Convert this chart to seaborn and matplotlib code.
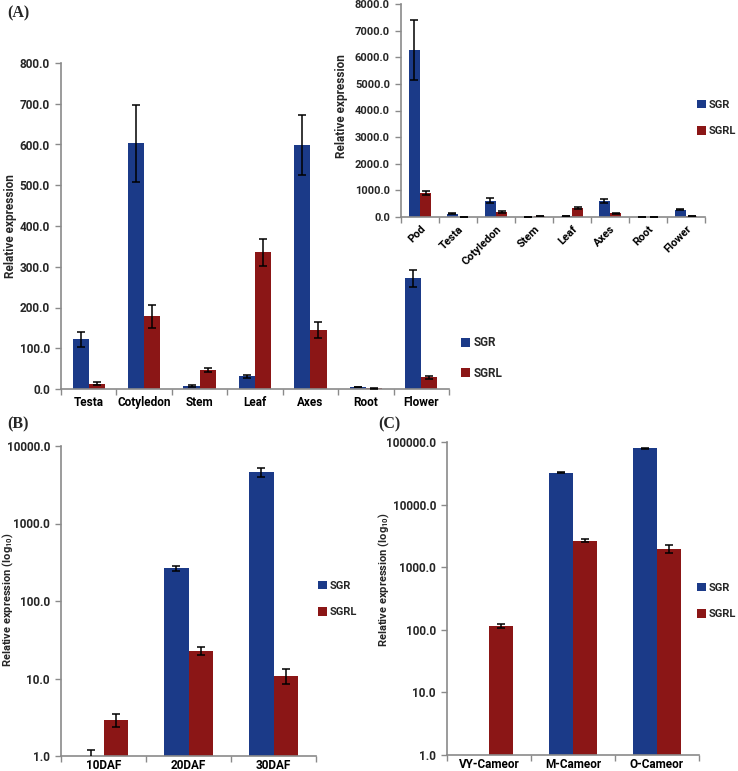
import matplotlib
matplotlib.use("Agg")
import matplotlib.pyplot as plt
import seaborn as sns
import pandas as pd
import numpy as np
from matplotlib.patches import Patch
from matplotlib.ticker import FixedLocator, FuncFormatter, NullLocator

# ---------------- data ----------------
genes = ["SGR", "SGRL"]

tissues = ["Testa", "Cotyledon", "Stem", "Leaf", "Axes", "Root", "Flower"]
sgr_tissue = [122, 603, 7, 31, 598, 5, 272]
sgr_tissue_err = [19, 94, 2, 4, 74, 1, 21]
sgrl_tissue = [13, 178, 47, 336, 145, 2, 29]
sgrl_tissue_err = [3, 29, 5, 33, 20, 1, 4]

pod_label = ["Pod"]
pod_sgr = [6270]
pod_sgr_err = [1140]
pod_sgrl = [900]
pod_sgrl_err = [80]

stages = ["10DAF", "20DAF", "30DAF"]
sgr_stage = [1.0, 264, 4620]
sgr_stage_err = [0.2, 20, 650]
sgrl_stage = [2.9, 22.8, 10.8]
sgrl_stage_err = [0.55, 2.5, 2.4]

cultivars = ["VY-Cameor", "M-Cameor", "O-Cameor"]
sgr_cult = [1.0, 32300, 79400]
sgr_cult_err = [np.nan, 500, 1000]
sgrl_cult = [115, 2650, 1950]
sgrl_cult_err = [10, 160, 280]

# ---------------- style ----------------
BLUE = "#1B3A88"
RED = "#8B1616"
palette = {"SGR": BLUE, "SGRL": RED}
SPINE = "#8a8a8a"

sns.set_theme(style="white")
FAM = ["Roboto", "DejaVu Sans"]
plt.rcParams["font.family"] = FAM
plt.rcParams["mathtext.fontset"] = "custom"
plt.rcParams["mathtext.rm"] = "Roboto:bold"
plt.rcParams["mathtext.it"] = "Roboto:bold"
plt.rcParams["mathtext.bf"] = "Roboto:bold"

W, H = 738, 771
fig = plt.figure(figsize=(W / 100, H / 100), dpi=100)


def ax_px(l, r, t, b):
    return fig.add_axes([l / W, 1 - b / H, (r - l) / W, (b - t) / H])


def make_df(cats, a, b):
    return pd.DataFrame({
        "cat": cats * 2,
        "gene": ["SGR"] * len(cats) + ["SGRL"] * len(cats),
        "value": list(a) + list(b),
    })


def panel(ax, cats, a, ae, b, be, log=False, ylim=None, yticks=None,
          ylabel="", fs=8.5, lfs=8.5, rot=0, xpad=5):
    df = make_df(cats, a, b)
    sns.barplot(data=df, x="cat", y="value", hue="gene", hue_order=genes,
                palette=palette, width=0.58, errorbar=None, saturation=1,
                legend=False, ax=ax, linewidth=0)
    if log:
        ax.set_yscale("log")
    errs = [ae, be]
    for cont, err in zip(ax.containers, errs):
        xs = [p.get_x() + p.get_width() / 2 for p in cont.patches]
        ys = [p.get_height() for p in cont.patches]
        ax.errorbar(xs, ys, yerr=err, fmt="none", ecolor="black",
                    elinewidth=1.1, capsize=3, capthick=1.1, zorder=5)
    ax.set_ylim(*ylim)
    ax.set_xlim(-0.5, len(cats) - 0.5)
    ax.yaxis.set_major_locator(FixedLocator(yticks))
    ax.yaxis.set_minor_locator(NullLocator())
    ax.yaxis.set_major_formatter(FuncFormatter(lambda v, p: f"{v:.1f}"))
    ax.set_xticks(range(len(cats)))
    ax.set_xticks(np.arange(-0.5, len(cats), 1.0), minor=True)
    if rot:
        ax.set_xticklabels(cats, rotation=rot, ha="right",
                           rotation_mode="anchor")
    ax.tick_params(axis="x", which="major", length=0, pad=xpad,
                   labelsize=fs, colors="black")
    ax.tick_params(axis="x", which="minor", length=4, width=1,
                   color=SPINE, direction="out", bottom=True)
    ax.tick_params(axis="y", which="major", length=4, width=1,
                   color=SPINE, direction="out", left=True, labelsize=fs,
                   pad=4)
    for lab in ax.get_xticklabels() + ax.get_yticklabels():
        lab.set_fontweight("bold")
        lab.set_family(FAM)
    for s in ["top", "right"]:
        ax.spines[s].set_visible(False)
    for s in ["left", "bottom"]:
        ax.spines[s].set_color(SPINE)
        ax.spines[s].set_linewidth(1.2)
    ax.set_xlabel("")
    ax.set_ylabel(ylabel, fontsize=lfs, fontweight="bold", family=FAM)
    ax.patch.set_alpha(0)


def legend(x, y, fs=8):
    handles = [Patch(facecolor=palette[g], edgecolor="none", label=g)
               for g in genes]
    fig.legend(handles=handles, loc="center left",
               bbox_to_anchor=(x / W, 1 - y / H), frameon=False,
               handlelength=0.8, handleheight=0.8, handletextpad=0.25,
               labelspacing=1.5, borderpad=0, borderaxespad=0,
               prop={"family": FAM, "weight": "bold", "size": fs})


# Panel A main
axA = ax_px(61, 449, 63, 389)
panel(axA, tissues, sgr_tissue, sgr_tissue_err, sgrl_tissue, sgrl_tissue_err,
      ylim=(0, 800), yticks=list(range(0, 801, 100)),
      ylabel="Relative expression")
axA.yaxis.set_label_coords(17 / W, 1 - 226 / H, transform=fig.transFigure)
legend(461, 358, fs=8.5)

# Panel A inset
axI = ax_px(401, 705, 4, 217)
panel(axI, pod_label + tissues, pod_sgr + sgr_tissue,
      pod_sgr_err + sgr_tissue_err, pod_sgrl + sgrl_tissue,
      pod_sgrl_err + sgrl_tissue_err,
      ylim=(0, 8000), yticks=list(range(0, 8001, 1000)),
      ylabel="Relative expression", fs=8, lfs=8.5, rot=45)
axI.yaxis.set_label_coords(348 / W, 1 - 106 / H, transform=fig.transFigure)
legend(697, 118)

# Panel B
axB = ax_px(61, 316, 446, 756)
panel(axB, stages, sgr_stage, sgr_stage_err, sgrl_stage, sgrl_stage_err,
      log=True, ylim=(1, 10000), yticks=[1, 10, 100, 1000, 10000],
      ylabel="Relative expression (log$_{10}$)", lfs=8, xpad=2.5)
axB.yaxis.set_label_coords(15 / W, 1 - 600 / H, transform=fig.transFigure)
legend(318, 599)

# Panel C
axC = ax_px(447, 699, 442, 755)
panel(axC, cultivars, sgr_cult, sgr_cult_err, sgrl_cult, sgrl_cult_err,
      log=True, ylim=(1, 100000), yticks=[1, 10, 100, 1000, 10000, 100000],
      ylabel="Relative expression (log$_{10}$)", lfs=8, xpad=2.5)
axC.yaxis.set_label_coords(391 / W, 1 - 580 / H, transform=fig.transFigure)
legend(697, 601)

# Panel labels
for txt, x, y in [("(A)", 7, 13), ("(B)", 7, 424), ("(C)", 378, 424)]:
    fig.text(x / W, 1 - y / H, txt, family="Liberation Serif",
             fontweight="bold", fontsize=11.5, va="center", ha="left")

fig.savefig("out.png", dpi=100)
